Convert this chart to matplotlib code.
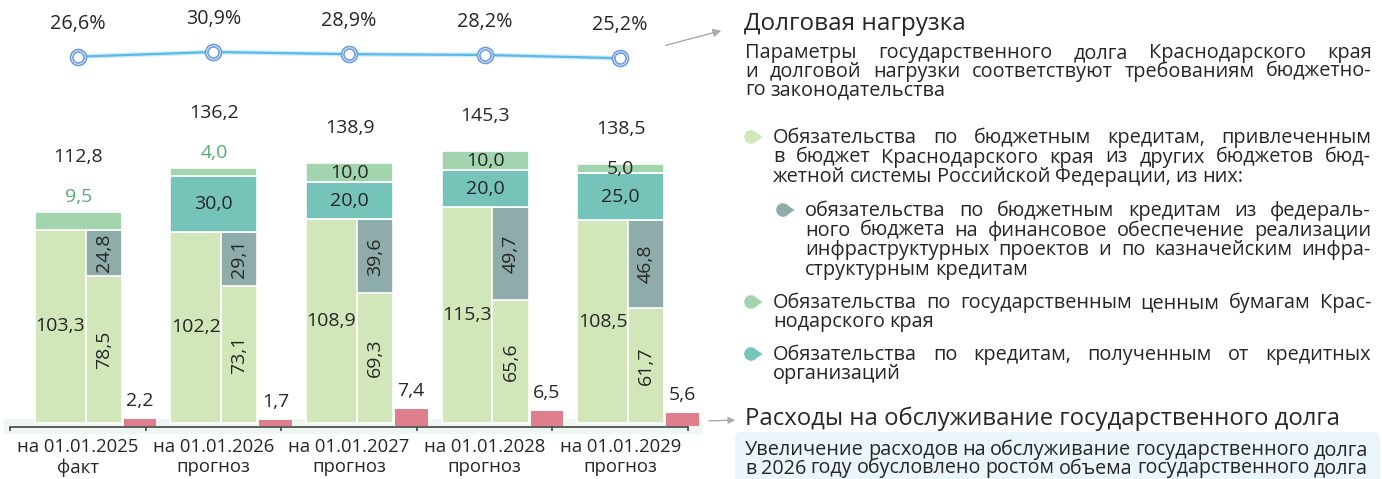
import matplotlib
matplotlib.use("Agg")
import matplotlib.pyplot as plt
from matplotlib.patches import Rectangle, FancyBboxPatch, Polygon
import numpy as np

plt.rcParams['font.family'] = ['Open Sans', 'DejaVu Sans']

# ---- data ----
periods = ['на 01.01.2025\nфакт', 'на 01.01.2026\nпрогноз', 'на 01.01.2027\nпрогноз',
           'на 01.01.2028\nпрогноз', 'на 01.01.2029\nпрогноз']
budget_credits = [103.3, 102.2, 108.9, 115.3, 108.5]   # бюджетные кредиты всего
other_budget = [78.5, 73.1, 69.3, 65.6, 61.7]          # прочие бюджетные кредиты
infra_credits = [24.8, 29.1, 39.6, 49.7, 46.8]          # инфраструктурные / казначейские
bank_credits = [0.0, 30.0, 20.0, 20.0, 25.0]            # кредиты кредитных организаций
securities = [9.5, 4.0, 10.0, 10.0, 5.0]                # ценные бумаги
totals = [112.8, 136.2, 138.9, 145.3, 138.5]
service_cost = [2.2, 1.7, 7.4, 6.5, 5.6]
debt_load = [26.6, 30.9, 28.9, 28.2, 25.2]
securities_out = [True, True, False, False, False]      # подпись над столбиком

load_title = 'Долговая нагрузка'
load_note = ['Параметры государственного долга Краснодарского края',
             'и долговой нагрузки соответствуют требованиям бюджетно-',
             'го законодательства']
legend_items = [
    ['Обязательства по бюджетным кредитам, привлеченным',
     'в бюджет Краснодарского края из других бюджетов бюд-',
     'жетной системы Российской Федерации, из них:'],
    ['обязательства по бюджетным кредитам из федераль-',
     'ного бюджета на финансовое обеспечение реализации',
     'инфраструктурных проектов и по казначейским инфра-',
     'структурным кредитам'],
    ['Обязательства по государственным ценным бумагам Крас-',
     'нодарского края'],
    ['Обязательства по кредитам, полученным от кредитных',
     'организаций'],
]
service_title = 'Расходы на обслуживание государственного долга'
service_note = ['Увеличение расходов на обслуживание государственного долга',
                'в 2026 году обусловлено ростом объема государственного долга']

# ---- colours ----
c_light = '#d2e7b9'
c_grey = '#8eaca9'
c_green = '#a2d5ad'
c_teal = '#76c3ba'
c_red = '#df7f8e'
c_text = '#262626'
c_gtext = '#5aab74'

W, H = 1382, 479
fig = plt.figure(figsize=(W / 100, H / 100), dpi=100)

# overlay in pixel coordinates for the text column and decorations
lax = fig.add_axes([0, 0, 1, 1])
lax.set_xlim(0, W)
lax.set_ylim(H, 0)
lax.axis('off')
lax.set_zorder(1)

lax.add_patch(Rectangle((4, 419), 698, 15, color='#eef6f1', lw=0))


def fmt(v):
    return f'{v:.1f}'.replace('.', ',')


# ---- bars ----
ax = fig.add_axes([10 / W, (H - 423) / H, 678 / W, 374 / H])
ax.set_zorder(2)
ax.patch.set_alpha(0)
ax.set_xlim(-0.5, 4.5)
ax.set_ylim(0, 200)
x = np.arange(len(periods))

wl, ww = -0.317, 0.375     # широкий столбик
nl, nw = 0.058, 0.266      # узкий столбик
fl, fw = -0.317, 0.641     # полный
rl, rw = 0.334, 0.25       # расходы
kw = dict(align='edge', edgecolor='white', linewidth=1.2, clip_on=False)

ax.bar(x + wl, budget_credits, ww, color=c_light, **kw)
ax.bar(x + nl, other_budget, nw, color=c_light, **kw)
ax.bar(x + nl, infra_credits, nw, bottom=other_budget, color=c_grey, **kw)
ax.bar(x + fl, bank_credits, fw, bottom=budget_credits, color=c_teal, **kw)
sec_bottom = np.array(budget_credits) + np.array(bank_credits)
ax.bar(x + fl, securities, fw, bottom=sec_bottom, color=c_green, **kw)
ax.bar(x + rl + 0.005, np.array(service_cost) + 1.4, rw - 0.01, bottom=-1.4,
       color=c_red, align='edge', linewidth=0, clip_on=False)

fs = 14
for i in x:
    ax.text(i + wl + ww / 2, budget_credits[i] / 2, fmt(budget_credits[i]),
            ha='center', va='center', fontsize=fs, color=c_text)
    ax.text(i + nl + nw / 2, other_budget[i] / 2, fmt(other_budget[i]),
            ha='center', va='center', fontsize=fs, color=c_text, rotation=90)
    ax.text(i + nl + nw / 2, other_budget[i] + infra_credits[i] / 2, fmt(infra_credits[i]),
            ha='center', va='center', fontsize=fs, color=c_text, rotation=90)
    if bank_credits[i] > 0:
        ax.text(i + fl + fw / 2, budget_credits[i] + bank_credits[i] / 2, fmt(bank_credits[i]),
                ha='center', va='center', fontsize=fs, color=c_text)
    top = sec_bottom[i] + securities[i]
    if securities_out[i]:
        ax.annotate(fmt(securities[i]), (i + fl + fw / 2, top), xytext=(0, 15),
                    textcoords='offset pixels', ha='center', va='center',
                    fontsize=fs, color=c_gtext)
        off = 55
    else:
        ax.text(i + fl + fw / 2, sec_bottom[i] + securities[i] / 2, fmt(securities[i]),
                ha='center', va='center', fontsize=fs, color=c_text)
        off = 35
    ax.annotate(fmt(totals[i]), (i + fl + fw / 2, top), xytext=(0, off),
                textcoords='offset pixels', ha='center', va='center',
                fontsize=fs, color=c_text)
    ax.annotate(fmt(service_cost[i]), (i + rl + rw / 2, service_cost[i]), xytext=(0, 18),
                textcoords='offset pixels', ha='center', va='center',
                fontsize=fs, color=c_text)

for s in ['top', 'left', 'right']:
    ax.spines[s].set_visible(False)
ax.spines['bottom'].set_position(('outward', 3))
ax.spines['bottom'].set_color('#444444')
ax.spines['bottom'].set_linewidth(1.2)
ax.set_yticks([])
ax.set_xticks(np.arange(-0.5, 5, 1))
ax.set_xticklabels([])
ax.tick_params(axis='x', which='major', length=3, width=1.2, color='#444444', direction='out')
ax.set_xticks(x, minor=True)
ax.set_xticklabels(periods, minor=True, fontsize=13.3, color=c_text, linespacing=1.15)
ax.tick_params(axis='x', which='minor', length=0, pad=8)

# ---- debt load line ----
ax2 = fig.add_axes([10 / W, (H - 80) / H, 678 / W, 50 / H])
ax2.set_zorder(3)
ax2.set_xlim(-0.5, 4.5)
ax2.set_ylim(5.4, 50.9)
ax2.axis('off')
ax2.plot(x, debt_load, color='#d3ecf8', lw=3.5, solid_capstyle='round')
ax2.plot(x, debt_load, color='#5ab9e6', lw=1.6)
ax2.plot(x, debt_load, 'o', ms=11.5, mfc='white', mec='#6b9be0', mew=1.2)
ax2.plot(x, debt_load, 'o', ms=8, mfc='white', mec='#6b9be0', mew=1.2)
for i in x:
    ax2.annotate(fmt(debt_load[i]) + '%', (i, debt_load[i]), xytext=(0, 33),
                 textcoords='offset pixels', ha='center', va='center',
                 fontsize=14.2, color=c_text, annotation_clip=False)

# ---- text column ----
renderer = fig.canvas.get_renderer()


def text_line(x0, x1, y, line, size, justify=False, color=c_text, min_gap=4.5):
    words = line.split(' ')
    items = [lax.text(0, y, w, fontsize=size, color=color, va='baseline') for w in words]
    widths = [t.get_window_extent(renderer).width for t in items]
    natural = sum(widths) + min_gap * (len(words) - 1)
    if natural > x1 - x0:
        # строка не помещается - чуть уменьшаем шрифт
        k = (x1 - x0) / natural
        for t in items:
            t.set_fontsize(size * k)
        widths = [t.get_window_extent(renderer).width for t in items]
    if justify and len(words) > 1:
        gap = (x1 - x0 - sum(widths)) / (len(words) - 1)
    else:
        gap = min_gap
    pos = x0
    for t, w in zip(items, widths):
        t.set_x(pos)
        pos += w + gap


def leaf(cx, cy, color, r=6.8):
    a = np.radians(np.linspace(40, 320, 30))
    pts = list(zip(cx + r * np.cos(a), cy - r * np.sin(a)))
    pts.append((cx + 1.7 * r, cy))
    lax.add_patch(Polygon(pts, closed=True, color=color, lw=0))


body = 14.3
lax.text(744, 30, load_title, fontsize=17.5, color=c_text, va='baseline')
for k, line in enumerate(load_note):
    text_line(745, 1372, 58 + 18.5 * k, line, body, justify=k < len(load_note) - 1)

leg_x = [773, 805, 773, 773]
leg_y = [143, 216, 308, 360]
leg_c = [c_light, c_grey, c_green, c_teal]
for item, lx, ly, lc in zip(legend_items, leg_x, leg_y, leg_c):
    leaf(lx - 22, ly - 6, lc)
    for k, line in enumerate(item):
        text_line(lx, 1371, ly + 19.5 * k, line, body, justify=k < len(item) - 1)

lax.annotate('', xy=(724, 30), xytext=(663, 46),
             arrowprops=dict(arrowstyle='-|>', color='#aaaaaa', lw=1, mutation_scale=12))
lax.annotate('', xy=(738, 420), xytext=(706, 421),
             arrowprops=dict(arrowstyle='-|>', color='#aaaaaa', lw=1, mutation_scale=10))

lax.text(745, 425, service_title, fontsize=17.2, color=c_text, va='baseline')
lax.add_patch(FancyBboxPatch((735, 432), 645, 70, boxstyle='round,pad=0,rounding_size=6',
                             fc='#eaf5fc', ec='none'))
for k, line in enumerate(service_note):
    text_line(745, 1368, 455 + 18.5 * k, line, body, justify=True, min_gap=4)

fig.savefig('out.png', dpi=100)
